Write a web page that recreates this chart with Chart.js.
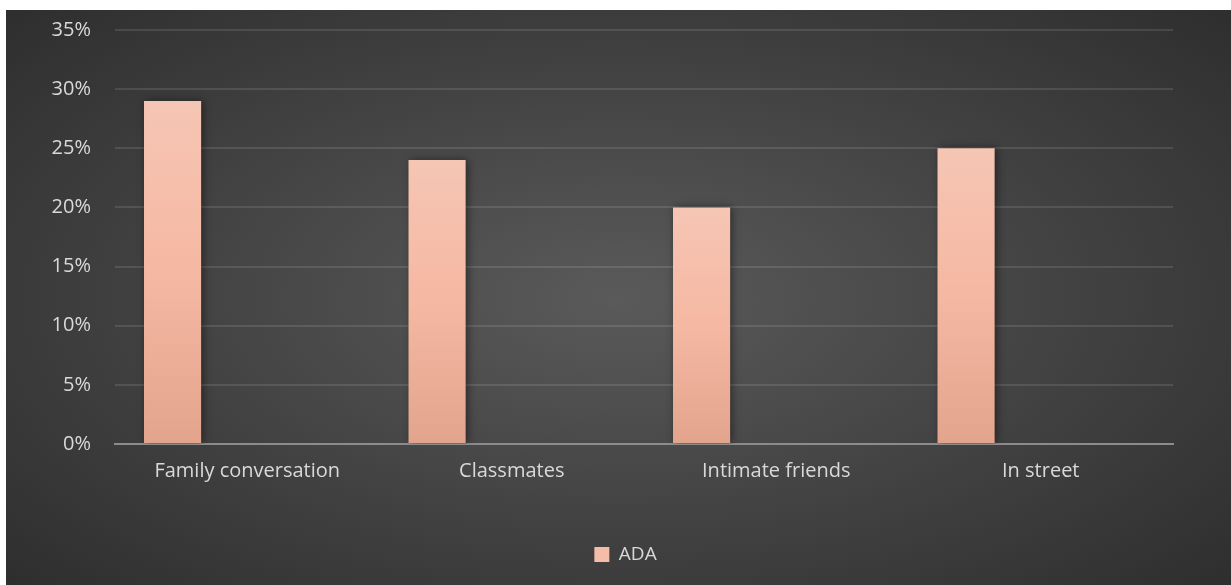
<!DOCTYPE html>
<html>
<head>
<meta charset="utf-8">
<script src="https://cdn.jsdelivr.net/npm/chart.js@4"></script>
<style>
  body { margin: 0; background: #ffffff; }
  #box {
    position: absolute; left: 6px; top: 10px; width: 1225px; height: 575px;
    background: radial-gradient(ellipse 75% 80% at 50% 50%, #5a5a5a 0%, #444444 45%, #2a2a2a 100%);
  }
</style>
</head>
<body>
<div id="box"><canvas id="chart" width="1225" height="575"></canvas></div>
<script>
const categories = ["Family conversation", "Classmates", "Intimate friends", "In street"];
const adaValues = [0.29, 0.24, 0.20, 0.25];
const emptyValues = [null, null, null, null];
const yTicks = [0, 0.05, 0.10, 0.15, 0.20, 0.25, 0.30, 0.35];

// each bar gets its own vertical gradient, light at the top
function barFill(ctx) {
    const chart = ctx.chart;
    if (!chart.chartArea || ctx.type !== "data") return "#f5b8a2";
    const y = chart.scales.y;
    const top = y.getPixelForValue(ctx.raw || 0);
    const bottom = y.getPixelForValue(0);
    if (!(bottom > top)) return "#f5b8a2";
    const g = chart.ctx.createLinearGradient(0, top, 0, bottom);
    g.addColorStop(0, "#f5c6b4");
    g.addColorStop(0.5, "#f5b8a2");
    g.addColorStop(1, "#e3a48d");
    return g;
}

const barShadow = {
    id: "barShadow",
    beforeDatasetsDraw(chart) {
        const c = chart.ctx;
        c.save();
        c.shadowColor = "rgba(0,0,0,0.45)";
        c.shadowBlur = 8;
        c.shadowOffsetX = 2;
        c.shadowOffsetY = 0;
    },
    afterDatasetsDraw(chart) {
        chart.ctx.restore();
    }
};

new Chart(document.getElementById("chart"), {
    type: "bar",
    data: {
        labels: categories,
        datasets: [
            { label: "ADA", data: adaValues, backgroundColor: barFill, borderWidth: 0 },
            { label: "", data: emptyValues },
            { label: "", data: emptyValues }
        ]
    },
    options: {
        responsive: false,
        animation: false,
        categoryPercentage: 0.847,
        barPercentage: 0.765,
        layout: { padding: { left: 14, right: 0, top: 20, bottom: 11 } },
        plugins: {
            tooltip: { enabled: false },
            legend: {
                position: "bottom",
                labels: {
                    color: "#d9d9d9",
                    font: { family: "Open Sans", size: 19 },
                    boxWidth: 15,
                    boxHeight: 15,
                    padding: 10,
                    generateLabels: chart => [{
                        text: "ADA", fillStyle: "#f5bca7", strokeStyle: "#f5bca7",
                        lineWidth: 0, fontColor: "#d9d9d9", datasetIndex: 0
                    }]
                }
            }
        },
        scales: {
            x: {
                grid: { display: false, drawTicks: false },
                border: { color: "#8c8c8c", width: 2 },
                afterFit: axis => { axis.height = 91; },
                ticks: { color: "#d9d9d9", font: { family: "Open Sans", size: 20 }, padding: 15 }
            },
            y: {
                min: 0,
                max: 0.35,
                afterBuildTicks: axis => { axis.ticks = yTicks.map(v => ({ value: v })); },
                afterFit: axis => { axis.width = 95; },
                // invisible tick marks give the label gap without extra top padding
                grid: {
                    color: "rgba(255,255,255,0.11)", lineWidth: 2,
                    drawTicks: true, tickLength: 24, tickColor: "rgba(0,0,0,0)"
                },
                border: { display: false },
                ticks: {
                    color: "#d9d9d9",
                    font: { family: "Open Sans", size: 20 },
                    padding: 0,
                    callback: v => Math.round(v * 100) + "%"
                }
            },
            // empty right margin, like the space Excel leaves after the plot
            yRight: {
                position: "right",
                grid: { display: false, drawTicks: false },
                border: { display: false },
                ticks: { display: false },
                afterFit: axis => { axis.width = 58; }
            }
        }
    },
    plugins: [barShadow]
});
</script>
</body>
</html>
